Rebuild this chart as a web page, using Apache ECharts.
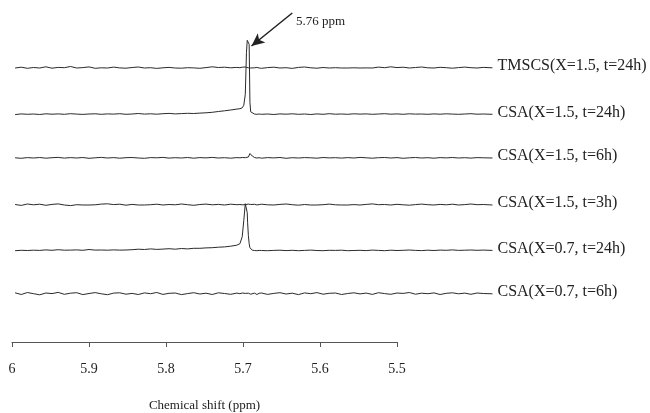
<!DOCTYPE html>
<html>
<head>
<meta charset="utf-8">
<script src="https://cdn.jsdelivr.net/npm/echarts@6/dist/echarts.min.js"></script>
<style>html,body{margin:0;padding:0;background:#fff;}#c{width:650px;height:413px;}</style>
</head>
<body>
<div id="c"></div>
<script>
// chemical shift sampling points (ppm)
const ppm = [5.996,5.988,5.980,5.972,5.964,5.956,5.948,5.940,5.932,5.924,5.916,5.908,5.900,5.892,5.884,5.876,5.868,5.860,5.852,5.844,5.836,5.828,5.820,5.812,5.804,5.796,5.788,5.780,5.772,5.764,5.756,5.748,5.740,5.732,5.724,5.716,5.708,
  5.704,5.701,5.699,5.697,5.6955,5.6945,5.694,5.693,5.692,5.691,5.690,5.688,5.685,5.682,5.679,
  5.676,5.668,5.660,5.652,5.644,5.636,5.628,5.620,5.612,5.604,5.596,5.588,5.580,5.572,5.564,5.556,5.548,5.540,5.532,5.524,5.516,5.508,5.500,5.492,5.484,5.476,5.468,5.460,5.452,5.444,5.436,5.428,5.420,5.412,5.404,5.396,5.388,5.376];

const seriesNames = ['TMSCS(X=1.5, t=24h)','CSA(X=1.5, t=24h)','CSA(X=1.5, t=6h)','CSA(X=1.5, t=3h)','CSA(X=0.7, t=24h)','CSA(X=0.7, t=6h)'];
// vertical stacking offsets of each spectrum
const offsets = [252, 205.7, 162, 115, 69.3, 26];

const tmscs = [0,0.8,-0.3,0.5,0,1.2,-0.2,0.6,0.3,1.5,0,0.4,1.1,-0.3,0.2,0,0.9,0.1,-0.2,0.5,1.0,0,0.3,-0.4,0.2,0.6,0,-0.2,0.3,0.1,-0.3,0.4,1.2,0.5,0.8,0.2,0.6,
  0.3,0.8,0.5,1.0,0.6,0.9,0.4,0.2,-0.3,0.3,0,-0.5,0.2,0.6,0,
  -0.3,0.4,0.8,0,0.3,-0.4,0.6,1.0,0.2,-0.2,0.5,0,0.3,0,0,0.2,0,0.1,0,0.9,0.3,1.2,0.4,0.8,0,0.5,1.0,0.2,0,0.7,0.3,-0.2,0.4,0.9,0.3,0,0.6,0.2];
const csa15_24 = [-0.3,0.4,0,0.3,-0.2,0.5,0.1,0.4,0,0.6,0.2,-0.1,0.3,0.5,0,0.4,0.2,0.6,0,0.3,0.8,0.2,0.5,0.1,0.6,0.9,0.4,0.7,1.0,0.8,1.2,1.5,2.0,2.8,3.5,4.3,5.2,
  5.6,6.5,9,20,62,74,74,73,70,12,2.5,0.8,0.2,0,0.3,
  0,0.3,-0.2,0.4,0.1,0.5,0,0.3,-0.2,0.4,0,0.6,0.1,0.3,0,0.5,0.2,0.4,0,0.3,0.6,0.1,0.4,0,0.5,0.2,0.3,0,0.4,0.1,0.5,0.2,0,0.3,0.6,0.1,0.3,0];
const csa15_6 = [0.2,-0.3,0.4,0,0.5,-0.2,0.3,0.6,-0.1,0.4,0,0.5,-0.3,0.2,0.6,0,0.4,-0.2,0.3,0.5,0,-0.3,0.4,0.2,0.6,-0.1,0.3,0,0.5,-0.2,0.4,0.1,0.6,0,0.3,-0.2,0.4,
  0.2,0.5,0,0.3,0.6,0.2,0.4,1.0,2.5,4.5,6,2,0.5,0,0.3,
  -0.2,0.4,0.1,0.5,-0.3,0.3,0,0.4,0.2,-0.2,0.5,0.1,0.3,-0.1,0.4,0,0.6,0.2,-0.2,0.3,0.5,0,0.4,-0.3,0.2,0.5,0,0.3,-0.2,0.4,0.1,0.5,0,0.3,-0.1,0.4,0.2,0];
const csa15_3 = [0.5,-0.4,1.0,0.2,0.8,-0.3,0.6,1.1,0,-0.6,0.3,0,0,0.2,0.9,1.2,0.4,0.8,-0.2,0.6,0,0,0.3,0.8,0,0.5,0.2,1.0,0.3,-0.3,0.5,0.9,0.2,0.6,0,0.8,0.3,
  0.5,0.2,0.8,0.3,0,0.6,0.4,0.9,0.2,0,0.5,0.3,0.7,0.1,0.4,
  0.8,0.2,0,0.6,1.0,0.3,-0.2,0.5,0,0,0.3,0.9,0.2,0,0,0.4,0,0.6,1.1,0.3,0.5,0,0.7,0.2,-0.2,0.4,0.9,0.3,0,0.6,0.2,0.8,0,0.4,1.0,0.3,0.5,0];
const csa07_24 = [0,0.4,0.2,0.5,0.3,0.8,0.4,1.0,0.5,0.6,0.8,0.4,1.2,0.6,0.7,0.5,0.8,0.6,0.7,1.0,1.5,1.2,1.8,1.3,1.6,2.0,1.5,2.2,1.8,2.4,2.4,2.8,3.0,3.5,3.8,4.5,5.5,
  7,14,30,47,46,38,28,15,7,3,1.2,0.5,0.2,0,0.3,
  0.2,0,0.3,0.5,0.1,0.4,0,0.3,0.6,0.2,0,0.4,0.3,0.5,0,0.2,0.4,0.1,0.6,0.3,0,0.5,0.2,0.4,0.7,0.3,0.1,0.5,0.2,0.6,0.4,0.8,0.3,0.5,0.7,0.4,0.6,0.3];
const csa07_6 = [1.2,-0.5,1.5,0.3,-0.8,1.0,0.4,1.6,-0.3,0.8,1.3,-0.6,0.5,1.4,0.2,-0.7,0.9,1.2,-0.2,0.6,-0.5,1.1,0.3,1.5,-0.4,0.7,1.0,-0.6,0.4,1.3,0,0.8,-0.5,1.2,0.5,-0.3,0.9,
  0.3,1.0,-0.4,0.6,1.2,0.2,-0.3,0.8,0.4,1.1,-0.2,0.5,0.9,-0.5,0.7,
  1.0,-0.4,0.6,1.3,0,0.8,-0.6,1.1,0.3,1.4,-0.2,0.7,1.0,-0.5,0.5,1.2,0.1,0.9,-0.4,1.3,0.4,-0.3,1.0,0.6,1.5,-0.2,0.8,0.3,1.1,-0.5,0.7,1.2,0.2,0.9,-0.3,1.0,0.5,0.2];

const spectra = [tmscs, csa15_24, csa15_6, csa15_3, csa07_24, csa07_6];
const axisTicks = [6, 5.9, 5.8, 5.7, 5.6, 5.5];
const annotationText = '5.76 ppm';
const axisTitle = 'Chemical shift (ppm)';

const serif = '"Liberation Serif", "Times New Roman", serif';
const chart = echarts.init(document.getElementById('c'), null, {renderer: 'canvas'});

const series = spectra.map((vals, i) => {
  const s = {
    name: seriesNames[i],
    type: 'line',
    xAxisIndex: 0, yAxisIndex: 0,
    data: vals.map((v, k) => [ppm[k], v + offsets[i]]),
    showSymbol: false,
    symbol: 'none',
    lineStyle: {color: '#2a2a2a', width: 1},
    animation: false,
    silent: true,
    endLabel: {show: true, formatter: '{a}', color: '#222', fontFamily: serif, fontSize: 16,
      distance: 5, align: 'left', offset: [10, -2]}
  };
  if (i === 1) {
    s.markLine = {
      silent: true, animation: false,
      symbol: ['none', 'arrow'], symbolSize: [9, 13],
      lineStyle: {color: '#222', width: 1.5, type: 'solid'},
      label: {show: false},
      data: [[{coord: [5.636, 307]}, {coord: [5.689, 274]}]]
    };
  }
  return s;
});

series.push({type: 'line', xAxisIndex: 1, yAxisIndex: 1, data: [], silent: true});

chart.setOption({
  backgroundColor: '#fff',
  animation: false,
  grid: [
    {left: 12, top: 0, width: 485.1, height: 320},
    {left: 12, top: 300, width: 385, height: 42}
  ],
  xAxis: [
    {gridIndex: 0, type: 'value', min: 5.37, max: 6, inverse: true, show: false},
    {gridIndex: 1, type: 'value', min: 5.5, max: 6, interval: 0.1, inverse: true,
     axisLine: {show: true, lineStyle: {color: '#555', width: 1.2}},
     axisTick: {show: true, inside: false, length: 5, lineStyle: {color: '#555'}},
     splitLine: {show: false},
     axisLabel: {color: '#222', fontFamily: serif, fontSize: 14, margin: 20,
       formatter: v => { const t = axisTicks.find(a => Math.abs(a - v) < 1e-6); return t === undefined ? '' : String(t); }},
     name: axisTitle, nameLocation: 'middle', nameGap: 57,
     nameTextStyle: {color: '#222', fontFamily: serif, fontSize: 13}}
  ],
  yAxis: [
    {gridIndex: 0, type: 'value', min: 0, max: 320, show: false},
    {gridIndex: 1, type: 'value', min: 0, max: 1, show: false}
  ],
  graphic: [
    {type: 'text', left: 296, top: 15, style: {text: annotationText, fill: '#222', font: '13px ' + serif}}
  ],
  series: series
});
</script>
</body>
</html>
